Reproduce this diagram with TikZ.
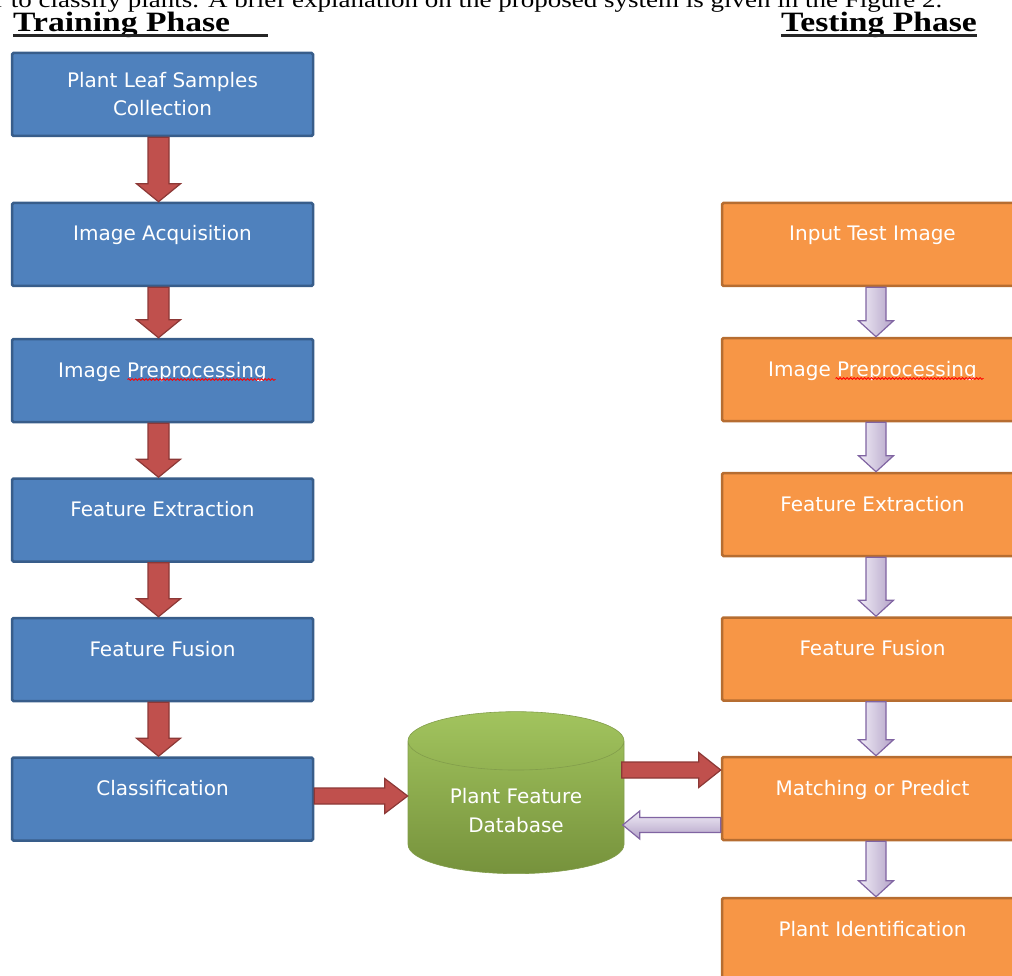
\documentclass[tikz,border=0pt]{standalone}
\usepackage{fontspec}
\usepackage{graphicx}
\setmainfont{Liberation Serif}
\newfontfamily\boxfont{DejaVu Sans}
\usetikzlibrary{positioning, calc, shapes.geometric, decorations.pathmorphing}

\definecolor{trainfill}{HTML}{4F81BD}
\definecolor{trainline}{HTML}{385D8A}
\definecolor{testfill}{HTML}{F79646}
\definecolor{testline}{HTML}{B66D31}
\definecolor{redfill}{HTML}{C0504D}
\definecolor{redline}{HTML}{8C3836}
\definecolor{lilacfill}{HTML}{B3A2C7}
\definecolor{lilaclight}{HTML}{F1EDF7}
\definecolor{lilacline}{HTML}{8064A2}
\definecolor{dbtop}{HTML}{A2C45E}
\definecolor{dbbottom}{HTML}{76923C}

\tikzset{
  box/.style={rectangle, rounded corners=1.5pt, line width=2.5pt,
    minimum width=301pt, minimum height=83pt, text=white, align=center,
    font=\boxfont\fontsize{20}{28}\selectfont, text height=14pt, text depth=21pt},
  trainbox/.style={box, fill=trainfill, draw=trainline},
  testbox/.style={box, fill=testfill, draw=testline},
  % block arrow: shaft half width, head half width, head length
  block/.style n args={3}{to path={let \p1=(\tikztostart), \p2=(\tikztotarget),
      \n1={atan2(\y2-\y1,\x2-\x1)} in
      ($(\p1)+({\n1+90}:#1)$) -- ($(\p2)+({\n1+180}:#3)+({\n1+90}:#1)$)
      -- ($(\p2)+({\n1+180}:#3)+({\n1+90}:#2)$) -- (\p2)
      -- ($(\p2)+({\n1+180}:#3)+({\n1-90}:#2)$) -- ($(\p2)+({\n1+180}:#3)+({\n1-90}:#1)$)
      -- ($(\p1)+({\n1-90}:#1)$) -- cycle}},
  redblock/.style={fill=redfill, draw=redline, line width=1.2pt},
  lilacblock/.style={draw=lilacline, line width=1.2pt},
  heading/.style={inner sep=0pt, font=\fontsize{28}{30}\selectfont\bfseries},
  underln/.style={line width=2.2pt, black!85},
  squiggle/.style={red, line width=0.8pt, decorate,
    decoration={snake, amplitude=0.9pt, segment length=3.5pt}},
}

\begin{document}
\begin{tikzpicture}[node distance=139.5pt, on grid]
\useasboundingbox (0,0) rectangle (1012pt,-976pt);

% text of the page above the figure
\node[inner sep=0pt, anchor=base west, font=\fontsize{22.5}{24}\selectfont] (intro) at (-5pt,-7.3pt)
  {\scalebox{1.2}[1]{r to classify plants. A brief explanation on the proposed system is given in the Figure 2.}};

% headings
\node[heading, anchor=base west] (train) at (13pt,-32pt) {\scalebox{1.2}[1]{Training Phase}};
\node[heading, anchor=base east] (test) at (977pt,-32pt) {\scalebox{1.2}[1]{Testing Phase}};
\draw[underln] ($(train.base west)+(0,-3.5pt)$) -- ++(255pt,0);
\draw[underln] ($(test.base west)+(0,-3.5pt)$) -- ($(test.base east)+(0,-3.5pt)$);

% training phase
\node[trainbox, text height=, text depth=] (b1) at (162.5pt,-94.5pt) {Plant Leaf Samples\\Collection};
\node[trainbox] (b2) [below=150pt of b1] {Image Acquisition};
\node[trainbox] (b3) [below=136pt of b2] {Image Preprocessing};
\node[trainbox] (b4) [below=of b3]       {Feature Extraction};
\node[trainbox] (b5) [below=of b4]       {Feature Fusion};
\node[trainbox] (b6) [below=of b5]       {Classification};

% testing phase
\node[testbox] (r1) [right=710pt of b2]   {Input Test Image};
\node[testbox] (r2) [below=135pt of r1]   {Image Preprocessing};
\node[testbox] (r3) [below=135pt of r2]   {Feature Extraction};
\node[testbox] (r4) [below=144.5pt of r3] {Feature Fusion};
\node[testbox] (r5) [below=of r4]         {Matching or Predict};
\node[testbox] (r6) [below=141pt of r5]   {Plant Identification};

% database
\node[cylinder, shape border rotate=90, aspect=0.42, minimum width=216pt, minimum height=162pt,
  top color=dbtop, bottom color=dbbottom, draw=dbtop!80!black, line width=0.6pt,
  text=white, align=center, font=\boxfont\fontsize{20}{29}\selectfont] (db) at (516pt,-811pt)
  {Plant Feature\\Database};

% spelling marks
\draw[squiggle] ($(b3.center)+(-35pt,1pt)$) -- ++(148pt,0);
\draw[squiggle] ($(r2.center)+(-37pt,1pt)$) -- ++(148pt,0);

% arrows
\foreach \a/\b in {b1/b2,b2/b3,b3/b4,b4/b5,b5/b6}
  \draw[redblock, block={10.5pt}{22pt}{18pt}] ($(\a.south)+(-4pt,0)$) to ($(\b.north)+(-4pt,0)$);
\foreach \a/\b in {r1/r2,r2/r3,r3/r4,r4/r5,r5/r6}
  \draw[lilacblock, left color=lilaclight, right color=lilacfill, block={10pt}{17.5pt}{16pt}]
    ($(\a.south)+(3.5pt,0)$) to ($(\b.north)+(3.5pt,0)$);
\draw[redblock, block={8pt}{17.5pt}{23pt}] ($(b6.east)+(0,3pt)$) to ($(b6.east -| db.west)+(0,3pt)$);
\draw[redblock, block={8pt}{17.5pt}{22pt}] ($(r5.west)+(-99pt,28.5pt)$) to ($(r5.west)+(0,28.5pt)$);
\draw[lilacblock, top color=lilaclight, bottom color=lilacfill, block={7.5pt}{14pt}{17pt}]
  ($(r5.west)+(0,-26.5pt)$) to ($(r5.west)+(-98pt,-26.5pt)$);
\end{tikzpicture}
\end{document}
